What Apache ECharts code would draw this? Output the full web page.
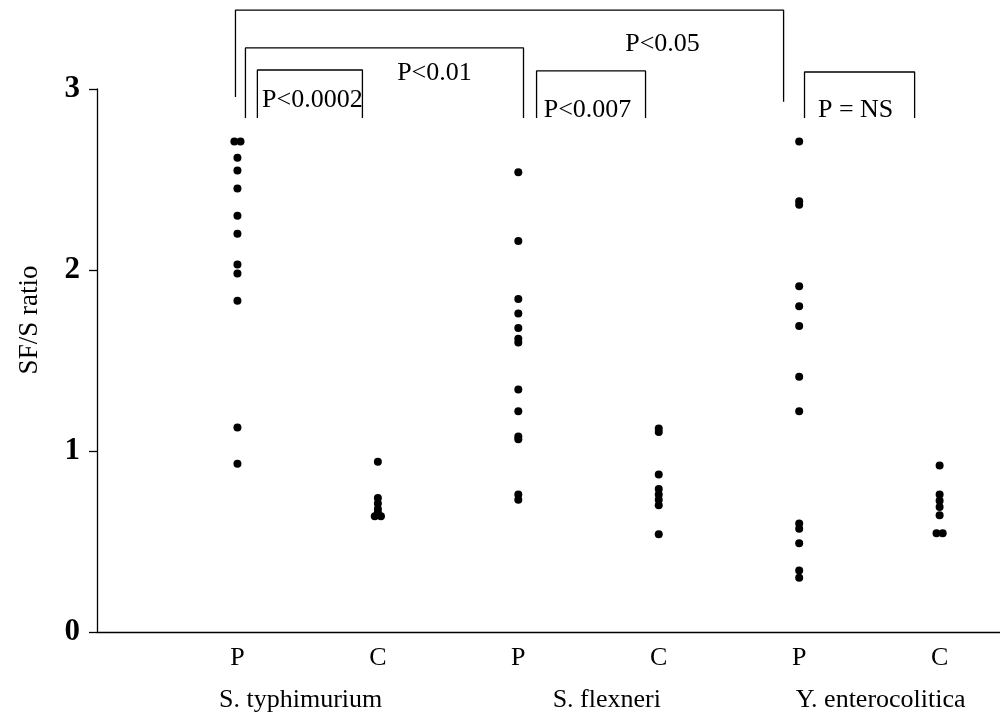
<!DOCTYPE html>
<html>
<head>
<meta charset="utf-8">
<script src="https://cdn.jsdelivr.net/npm/echarts@6/dist/echarts.min.js"></script>
<style>html,body{margin:0;padding:0;background:#fff;}#c{width:1000px;height:725px;}</style>
</head>
<body>
<div id="c"></div>
<script>
// ---- data ----
const categories = ['P', 'C', 'P', 'C', 'P', 'C'];
const groupNames = ['S. typhimurium', 'S. flexneri', 'Y. enterocolitica'];
const groupLabelX = [1.45, 3.63, 5.58];
const yTicks = [0, 1, 2, 3];
const typhimuriumP = [2.71, 2.71, 2.62, 2.55, 2.45, 2.30, 2.20, 2.03, 1.98, 1.83, 1.13, 0.93];
const typhimuriumC = [0.94, 0.74, 0.71, 0.68, 0.66, 0.64, 0.64];
const flexneriP = [2.54, 2.16, 1.84, 1.76, 1.68, 1.62, 1.60, 1.34, 1.22, 1.08, 1.065, 0.76, 0.73];
const flexneriC = [1.125, 1.105, 0.87, 0.79, 0.76, 0.73, 0.70, 0.54];
const enteroP = [2.71, 2.38, 2.36, 1.91, 1.80, 1.69, 1.41, 1.22, 0.60, 0.57, 0.49, 0.34, 0.30];
const enteroC = [0.92, 0.76, 0.725, 0.69, 0.645, 0.545, 0.545];
const columns = [typhimuriumP, typhimuriumC, flexneriP, flexneriC, enteroP, enteroC];
// significance brackets: [left x, right x, top y, left foot y, right foot y]
const bracketLeft  = [0.986, 1.057, 1.142, 3.13, 5.038];
const bracketRight = [4.889, 3.037, 1.89, 3.906, 5.822];
const bracketTop   = [3.436, 3.227, 3.105, 3.100, 3.094];
const bracketFootL = [2.956, 2.84, 2.84, 2.84, 2.84];
const bracketFootR = [2.93, 2.84, 2.84, 2.84, 2.84];
const pTexts = ['P<0.05', 'P<0.01', 'P<0.0002', 'P<0.007', 'P = NS'];
const pTextX = [4.027, 2.403, 1.534, 3.493, 5.402];
const pTextY = [3.249, 3.088, 2.939, 2.884, 2.884];

// ---- build ----
const serif = '"Liberation Serif", "Times New Roman", serif';
const dots = [];
columns.forEach((vals, i) => {
  const seen = {};
  vals.forEach(v => { seen[v] = (seen[v] || 0) + 1; });
  const used = {};
  vals.forEach(v => {
    let x = i + 1;
    if (seen[v] > 1) {
      const k = used[v] || 0; used[v] = k + 1;
      x += (k === 0 ? -0.022 : 0.022);
    }
    dots.push([x, v]);
  });
});

const bracketSeries = bracketLeft.map((l, i) => ({
  type: 'line',
  data: [[l, bracketFootL[i]], [l, bracketTop[i]], [bracketRight[i], bracketTop[i]], [bracketRight[i], bracketFootR[i]]],
  symbol: 'none',
  clip: false,
  silent: true,
  lineStyle: { color: '#000', width: 1.3 },
  z: 3
}));

const chart = echarts.init(document.getElementById('c'), null, { renderer: 'canvas' });
chart.setOption({
  animation: false,
  backgroundColor: '#fff',
  grid: { left: 97, right: 0, top: 89, bottom: 93, containLabel: false },
  xAxis: {
    type: 'value', min: 0, max: 6.43, interval: 1,
    axisLine: { show: true, lineStyle: { color: '#000', width: 1.3 } },
    axisTick: { show: false },
    splitLine: { show: false },
    axisLabel: {
      showMaxLabel: false, margin: 13,
      fontFamily: serif, fontSize: 26, color: '#000',
      formatter: v => (v >= 1 && v <= 6 && Number.isInteger(v)) ? categories[v - 1] : ''
    }
  },
  yAxis: {
    type: 'value', min: yTicks[0], max: yTicks[yTicks.length - 1], interval: 1,
    axisLine: { show: true, lineStyle: { color: '#000', width: 1.3 } },
    axisTick: { show: true, inside: false, length: 8, lineStyle: { color: '#000', width: 1.3 } },
    splitLine: { show: false },
    axisLabel: { margin: 17, fontFamily: serif, fontSize: 31, fontWeight: 'bold', color: '#000' }
  },
  graphic: [{
    type: 'text', x: 30, y: 320, rotation: Math.PI / 2,
    style: { text: 'SF/S ratio', font: '27px ' + serif, fill: '#000', align: 'center', verticalAlign: 'middle' }
  }],
  series: [
    {
      type: 'scatter', data: dots, symbol: 'circle', symbolSize: 8,
      itemStyle: { color: '#000', opacity: 1 }, z: 4
    },
    ...bracketSeries,
    {
      type: 'scatter', clip: false, symbolSize: 0, silent: true,
      itemStyle: { opacity: 1 },
      data: pTexts.map((t, i) => ({ name: t, value: [pTextX[i], pTextY[i]] })),
      label: { show: true, position: 'inside', formatter: p => p.name, fontFamily: serif, fontSize: 26, color: '#000' }
    },
    {
      type: 'scatter', clip: false, symbolSize: 0, silent: true,
      itemStyle: { opacity: 1 },
      data: groupNames.map((t, i) => ({ name: t, value: [groupLabelX[i], -0.375] })),
      label: { show: true, position: 'inside', formatter: p => p.name, fontFamily: serif, fontSize: 26, color: '#000' }
    }
  ]
});
</script>
</body>
</html>
